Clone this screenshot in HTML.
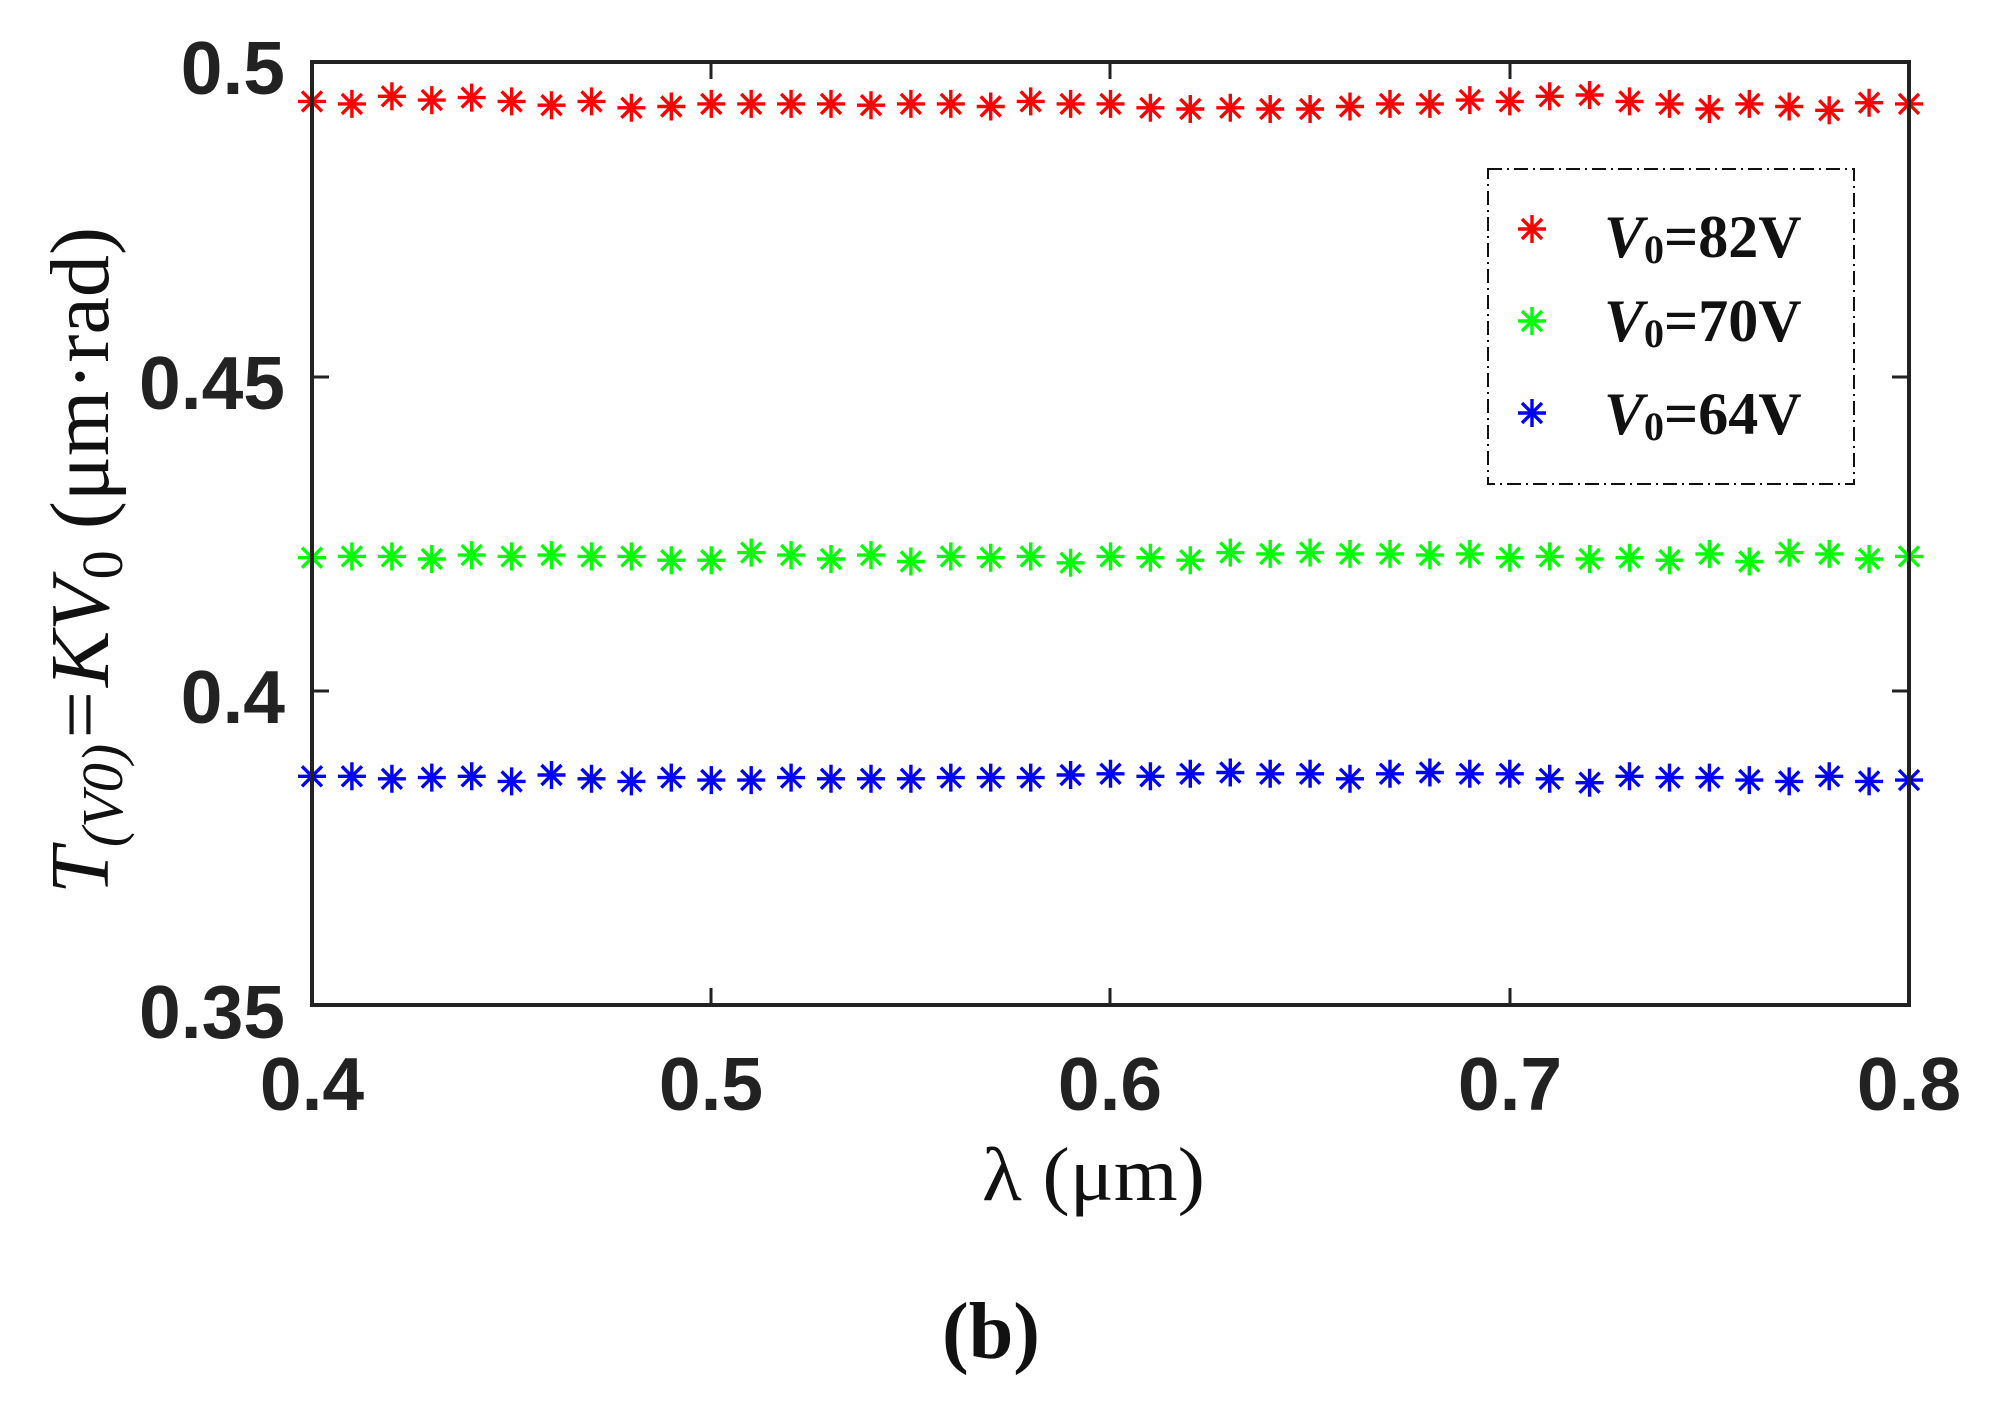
<!DOCTYPE html>
<html><head><meta charset="utf-8"><style>
html,body{margin:0;padding:0;background:#fff;}
svg{display:block;}
.tk{font-family:"Liberation Sans",Arial,sans-serif;font-weight:bold;font-size:75px;fill:#222;}
.sr{font-family:"Liberation Serif","Times New Roman",serif;fill:#111;}
</style></head><body>
<svg id="s" width="1993" height="1411" viewBox="0 0 1993 1411" xmlns="http://www.w3.org/2000/svg">
<defs>
<g id="m"><path d="M0,-14V14M-14,0H14M-10,-10L10,10M-10,10L10,-10" stroke-width="3.4" fill="none"/></g>
</defs>
<rect x="0" y="0" width="1993" height="1411" fill="#fff"/>
<g id="pts"></g>
<rect x="312" y="62" width="1597" height="943" fill="none" stroke="#222" stroke-width="4"/>
<g stroke="#222" stroke-width="3">
<line x1="312" y1="377" x2="329" y2="377"/><line x1="1909" y1="377" x2="1892" y2="377"/>
<line x1="312" y1="691" x2="329" y2="691"/><line x1="1909" y1="691" x2="1892" y2="691"/>
<line x1="711" y1="1005" x2="711" y2="988"/><line x1="711" y1="62" x2="711" y2="79"/>
<line x1="1110" y1="1005" x2="1110" y2="988"/><line x1="1110" y1="62" x2="1110" y2="79"/>
<line x1="1510" y1="1005" x2="1510" y2="988"/><line x1="1510" y1="62" x2="1510" y2="79"/>
</g>
<g class="tk" text-anchor="end">
<text x="285" y="94">0.5</text>
<text x="285" y="409">0.45</text>
<text x="285" y="723">0.4</text>
<text x="285" y="1038">0.35</text>
</g>
<g class="tk" text-anchor="middle">
<text x="312" y="1110">0.4</text>
<text x="711" y="1110">0.5</text>
<text x="1110" y="1110">0.6</text>
<text x="1510" y="1110">0.7</text>
<text x="1909" y="1110">0.8</text>
</g>
<text class="sr" x="982" y="1200" font-size="76" textLength="223" lengthAdjust="spacingAndGlyphs">λ (μm)</text>
<text class="sr" x="942" y="1358" font-size="80" font-weight="bold" textLength="98" lengthAdjust="spacingAndGlyphs">(b)</text>
<text class="sr" transform="translate(108,894) rotate(-90)" font-size="84" textLength="667" lengthAdjust="spacingAndGlyphs"><tspan font-style="italic">T</tspan><tspan font-style="italic" font-size="58" dy="14">(V0)</tspan><tspan dy="-14" font-style="italic">=KV</tspan><tspan font-size="58" dy="14">0</tspan><tspan dy="-14"> (μm·rad)</tspan></text>
<rect x="1488" y="169" width="366" height="315" fill="#fff" stroke="#111" stroke-width="2" stroke-dasharray="14,5,2,5"/>
<use href="#m" x="1532" y="229" stroke="#ff0000"/>
<use href="#m" x="1532" y="321" stroke="#00ff00"/>
<use href="#m" x="1532" y="413" stroke="#0000ff"/>
<g class="sr" font-size="60" font-weight="bold">
<text x="1604" y="257"><tspan font-style="italic">V</tspan><tspan font-size="40" dy="6">0</tspan><tspan dy="-6">=82V</tspan></text>
<text x="1604" y="341"><tspan font-style="italic">V</tspan><tspan font-size="40" dy="6">0</tspan><tspan dy="-6">=70V</tspan></text>
<text x="1604" y="434"><tspan font-style="italic">V</tspan><tspan font-size="40" dy="6">0</tspan><tspan dy="-6">=64V</tspan></text>
</g>
</svg>
<script>
var R=[78,80,74,77,75,78,81,78,83,82,80,80,80,80,81,80,80,82,78,80,80,83,84,83,84,84,82,80,80,77,78,74,73,78,80,84,80,82,85,79,80];
var G=[437,436,436,438,435,436,435,436,436,439,439,433,435,438,435,440,436,437,436,441,436,437,439,433,434,433,434,434,435,434,437,436,438,437,439,434,440,433,434,438,436];
var B=[609,609,611,610,609,613,608,611,613,610,612,612,610,611,611,611,610,610,610,608,607,609,607,606,607,607,611,607,606,607,607,611,614,609,610,610,612,613,609,613,612];
var g=document.getElementById('pts'),ns='http://www.w3.org/2000/svg';
function add(arr,col){for(var i=0;i<41;i++){var u=document.createElementNS(ns,'use');u.setAttribute('href','#m');
u.setAttribute('x',(312+i*1597/40).toFixed(1));u.setAttribute('y',(62+(arr[i]-47)*1.271).toFixed(1));u.setAttribute('stroke',col);g.appendChild(u);}}
add(R,'#ff0000');add(G,'#00ff00');add(B,'#0000ff');
</script>
</body></html>
